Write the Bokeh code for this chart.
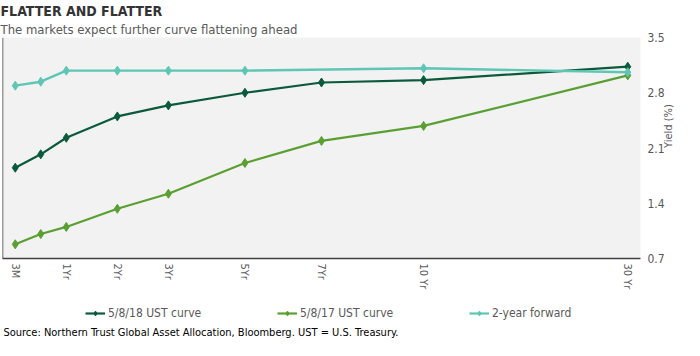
from bokeh.plotting import figure
from bokeh.models import (Range1d, FixedTicker, Legend, LegendItem, Span, Label, Title)
from bokeh.layouts import column
from bokeh.embed import file_html
from bokeh.resources import INLINE

# maturity positions on the chart's (non-linear) maturity axis
maturity_pos = [0, 1, 2, 4, 6, 9, 12, 16, 24]
maturity_names = ["3M", "6M", "1Yr", "2Yr", "3Yr", "5Yr", "7Yr", "10 Yr", "30 Yr"]
tick_pos = [0, 2, 4, 6, 9, 12, 16, 24]
tick_labels = ["3M", "1Yr", "2Yr", "3Yr", "5Yr", "7Yr", "10 Yr", "30 Yr"]

ust_2018 = [1.85, 2.02, 2.23, 2.50, 2.64, 2.80, 2.93, 2.96, 3.13]
ust_2017 = [0.88, 1.01, 1.10, 1.33, 1.52, 1.91, 2.19, 2.38, 3.02]
fwd_pos = [0, 1, 2, 4, 6, 9, 16, 24]
fwd_2y = [2.89, 2.94, 3.08, 3.08, 3.08, 3.08, 3.11, 3.06]

series_names = ["5/8/18 UST curve", "5/8/17 UST curve", "2-year forward"]
y_ticks = [0.7, 1.4, 2.1, 2.8, 3.5]

FONT = "DejaVu Sans Condensed"
GRAY = "#595959"
C_DARK = "#0b5a3c"
C_LIGHT = "#5a9f32"
C_TEAL = "#5ec6b4"
COLORS = [C_DARK, C_LIGHT, C_TEAL]

X0, X1, Y0, Y1 = -0.5, 24.5, 0.7, 3.5

p = figure(width=684, height=292, output_backend="svg", toolbar_location=None,
           x_range=Range1d(X0, X1), y_range=Range1d(Y0, Y1),
           y_axis_location="right", title=None,
           min_border_left=2, min_border_right=40, min_border_top=0, min_border_bottom=30)
p.background_fill_color = "#f2f2f2"
p.border_fill_color = "white"
p.outline_line_color = None
p.grid.visible = False

# y axis (right)
ya = p.yaxis[0]
ya.ticker = FixedTicker(ticks=y_ticks)
ya.axis_line_color = None
ya.major_tick_line_color = None
ya.minor_tick_line_color = None
ya.major_tick_out = 0
ya.major_tick_in = 0
ya.minor_tick_out = 0
ya.major_label_text_font = FONT
ya.major_label_text_font_size = "12px"
ya.major_label_text_color = GRAY
ya.major_label_standoff = 7
ya.axis_label = "Yield (%)"
ya.axis_label_text_font = FONT
ya.axis_label_text_font_size = "11px"
ya.axis_label_text_font_style = "normal"
ya.axis_label_text_color = GRAY
ya.axis_label_standoff = 1
try:
    ya.axis_label_orientation = 1.5708
except Exception:
    pass

# x axis
xa = p.xaxis[0]
xa.ticker = FixedTicker(ticks=tick_pos)
xa.major_label_overrides = {t: l for t, l in zip(tick_pos, tick_labels)}
xa.major_label_orientation = -1.5708
xa.axis_line_color = "#404040"
xa.axis_line_width = 1.5
xa.major_tick_line_color = None
xa.minor_tick_line_color = None
xa.major_tick_out = 0
xa.major_tick_in = 0
xa.minor_tick_out = 0
xa.major_label_text_font = FONT
xa.major_label_text_font_size = "11px"
xa.major_label_text_color = GRAY
xa.major_label_standoff = 5

p.add_layout(Span(location=X0, dimension="height", line_color="#404040", line_width=1.5))

p.line(maturity_pos, ust_2018, line_color=C_DARK, line_width=2.2)
p.scatter(maturity_pos, ust_2018, marker="diamond", size=9, color=C_DARK)
p.line(maturity_pos, ust_2017, line_color=C_LIGHT, line_width=2.2)
p.scatter(maturity_pos, ust_2017, marker="diamond", size=9, color=C_LIGHT)
p.line(fwd_pos, fwd_2y, line_color=C_TEAL, line_width=2.4)
p.scatter(fwd_pos, fwd_2y, marker="diamond", size=9, color=C_TEAL)

p.add_layout(Title(text="The markets expect further curve flattening ahead", align="left",
                   text_font=FONT, text_font_size="13px", text_font_style="normal",
                   text_color=GRAY, standoff=2, offset=-2), "above")
p.add_layout(Title(text="FLATTER AND FLATTER", align="left", text_font=FONT,
                   text_font_size="14px", text_font_style="bold", text_color="#333333",
                   standoff=0, offset=-2), "above")

# legend + source strip
LW, LH = 684, 48
q = figure(width=LW, height=LH, output_backend="svg", toolbar_location=None,
           x_range=Range1d(0, LW), y_range=Range1d(0, LH), x_axis_type=None, y_axis_type=None,
           min_border=0)
q.outline_line_color = None
q.grid.visible = False
q.background_fill_color = "white"
# series are drawn again here on an off-screen range only so the legend has glyphs
q.extra_x_ranges = {"off": Range1d(1000, 1001)}
q.extra_y_ranges = {"off": Range1d(1000, 1001)}

items = []
for name, col, xs, ys in zip(series_names, COLORS,
                             [maturity_pos, maturity_pos, fwd_pos],
                             [ust_2018, ust_2017, fwd_2y]):
    rl = q.line(xs, ys, line_color=col, line_width=2.2, x_range_name="off", y_range_name="off")
    rs = q.scatter(xs, ys, marker="diamond", size=7, color=col, x_range_name="off", y_range_name="off")
    items.append(LegendItem(label=name, renderers=[rl, rs]))

legend = Legend(items=items, orientation="horizontal", location=(83, 20))
legend.label_text_font = FONT
legend.label_text_font_size = "12px"
legend.label_text_color = GRAY
legend.glyph_width = 20
legend.glyph_height = 12
legend.label_standoff = 3
legend.label_width = 165
legend.spacing = 4
legend.padding = 2
legend.margin = 0
legend.border_line_color = None
legend.background_fill_alpha = 0
q.add_layout(legend, "center")

q.add_layout(Label(x=1, y=8, text="Source: Northern Trust Global Asset Allocation, Bloomberg. UST = U.S. Treasury.",
                   text_font=FONT, text_font_size="11px", text_color="black",
                   text_baseline="middle", text_align="left"))

open("out.html", "w").write(file_html(column(p, q, spacing=0), INLINE))
